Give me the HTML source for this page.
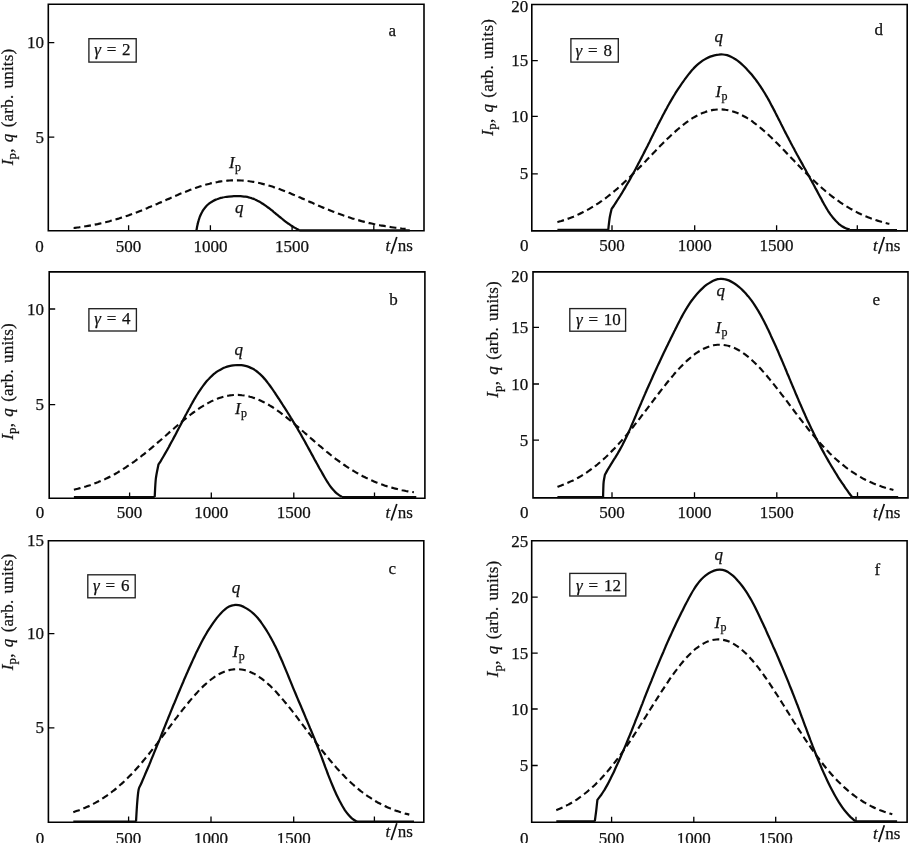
<!DOCTYPE html>
<html><head><meta charset="utf-8"><title>Ip, q vs t</title>
<style>
html,body{margin:0;padding:0;background:#fff;}
svg{display:block;will-change:transform;}
text{font-family:"Liberation Serif",serif;font-size:17px;fill:#111;stroke:#111;stroke-width:0.25;}
.i{font-style:italic;}
.fr{fill:none;stroke:#000;stroke-width:1.6;}
.tk{stroke:#000;stroke-width:1.3;fill:none;}
.q{fill:none;stroke:#0a0a0a;stroke-width:2.25;stroke-linejoin:round;stroke-linecap:butt;}
.ip{fill:none;stroke:#0a0a0a;stroke-width:2.15;stroke-dasharray:6.8 3.9;}
.bx{fill:none;stroke:#222;stroke-width:1.35;}
</style></head>
<body>
<svg width="909" height="843" viewBox="0 0 909 843">
<rect x="0" y="0" width="909" height="843" fill="#fff"/>

<g id="panel-a">
<path class="fr" d="M48.3 4.3H424.0V230.8H48.3Z"/>
<path class="tk" d="M48.3 42.6h6M48.3 137.2h6M128.6 230.8v-5.6M210.4 230.8v-5.6M292.1 230.8v-5.6M373.8 230.8v-5.6"/>
<text x="43.9" y="48.2" text-anchor="end">10</text>
<text x="43.9" y="142.8" text-anchor="end">5</text>
<text x="39.4" y="251.9" text-anchor="middle">0</text>
<text x="128.6" y="251.9" text-anchor="middle">500</text>
<text x="210.4" y="251.9" text-anchor="middle">1000</text>
<text x="292.1" y="251.9" text-anchor="middle">1500</text>
<text class="i" x="385.6" y="251.1">t</text>
<path d="M391.2 253.8L396.8 237.1" stroke="#111" stroke-width="1.7" fill="none"/>
<text x="397.8" y="251.1">ns</text>
<text transform="translate(12.5 106.9) rotate(-90)" text-anchor="middle" word-spacing="1.6" letter-spacing="0.22"><tspan class="i">I</tspan><tspan font-size="13" dy="3.5">p</tspan><tspan dy="-3.5">, </tspan><tspan class="i">q</tspan> (arb. units)</text>
<rect class="bx" x="88.9" y="38.7" width="47.3" height="23.4"/>
<text x="94.2" y="55.4"><tspan class="i">γ</tspan><tspan dx="5.8">=</tspan><tspan dx="5.7">2</tspan></text>
<text x="388.6" y="35.6">a</text>
<path class="ip" d="M73.6 228.0C74.3 228.0 76.3 227.7 77.6 227.5C78.9 227.3 80.3 227.2 81.6 227.0C82.9 226.8 84.3 226.5 85.6 226.3C86.9 226.1 88.3 225.9 89.6 225.6C90.9 225.4 92.3 225.1 93.6 224.9C94.9 224.6 96.3 224.3 97.6 224.1C98.9 223.8 100.3 223.5 101.6 223.2C102.9 222.9 104.3 222.5 105.6 222.2C106.9 221.9 108.3 221.5 109.6 221.2C110.9 220.8 112.3 220.4 113.6 220.1C114.9 219.7 116.3 219.3 117.6 218.9C118.9 218.5 120.3 218.1 121.6 217.6C122.9 217.2 124.3 216.8 125.6 216.3C126.9 215.9 128.3 215.4 129.6 214.9C130.9 214.5 132.3 214.0 133.6 213.5C134.9 213.0 136.3 212.5 137.6 212.0C138.9 211.4 140.3 210.9 141.6 210.4C142.9 209.9 144.3 209.3 145.6 208.8C146.9 208.2 148.3 207.7 149.6 207.1C150.9 206.5 152.3 206.0 153.6 205.4C154.9 204.8 156.3 204.2 157.6 203.7C158.9 203.1 160.3 202.5 161.6 201.9C162.9 201.3 164.3 200.7 165.6 200.2C166.9 199.6 168.3 199.0 169.6 198.4C170.9 197.8 172.3 197.2 173.6 196.7C174.9 196.1 176.3 195.5 177.6 195.0C178.9 194.4 180.3 193.8 181.6 193.3C182.9 192.7 184.3 192.2 185.6 191.7C186.9 191.1 188.3 190.6 189.6 190.1C190.9 189.6 192.3 189.1 193.6 188.6C194.9 188.1 196.3 187.7 197.6 187.2C198.9 186.8 200.3 186.3 201.6 185.9C202.9 185.5 204.3 185.1 205.6 184.7C206.9 184.4 208.3 184.0 209.6 183.7C210.9 183.3 212.3 183.0 213.6 182.7C214.9 182.5 216.3 182.2 217.6 182.0C218.9 181.7 220.3 181.5 221.6 181.3C222.9 181.1 224.3 181.0 225.6 180.8C226.9 180.7 228.3 180.6 229.6 180.5C230.9 180.4 232.3 180.4 233.6 180.3C234.9 180.3 236.3 180.3 237.6 180.3C238.9 180.3 240.3 180.4 241.6 180.5C242.9 180.5 244.3 180.7 245.6 180.8C246.9 180.9 248.3 181.1 249.6 181.3C250.9 181.4 252.3 181.7 253.6 181.9C254.9 182.1 256.3 182.4 257.6 182.7C258.9 182.9 260.3 183.3 261.6 183.6C262.9 183.9 264.3 184.3 265.6 184.6C266.9 185.0 268.3 185.4 269.6 185.8C270.9 186.2 272.3 186.6 273.6 187.1C274.9 187.5 276.3 188.0 277.6 188.5C278.9 188.9 280.3 189.4 281.6 189.9C282.9 190.4 284.3 191.0 285.6 191.5C286.9 192.0 288.3 192.6 289.6 193.1C290.9 193.7 292.3 194.2 293.6 194.8C294.9 195.3 296.3 195.9 297.6 196.5C298.9 197.1 300.3 197.6 301.6 198.2C302.9 198.8 304.3 199.4 305.6 200.0C306.9 200.6 308.3 201.2 309.6 201.7C310.9 202.3 312.3 202.9 313.6 203.5C314.9 204.1 316.3 204.7 317.6 205.2C318.9 205.8 320.3 206.4 321.6 206.9C322.9 207.5 324.3 208.1 325.6 208.6C326.9 209.2 328.3 209.7 329.6 210.2C330.9 210.8 332.3 211.3 333.6 211.8C334.9 212.3 336.3 212.8 337.6 213.3C338.9 213.8 340.3 214.3 341.6 214.8C342.9 215.3 344.3 215.7 345.6 216.2C346.9 216.6 348.3 217.1 349.6 217.5C350.9 217.9 352.3 218.4 353.6 218.8C354.9 219.2 356.3 219.6 357.6 220.0C358.9 220.3 360.3 220.7 361.6 221.1C362.9 221.4 364.3 221.8 365.6 222.1C366.9 222.4 368.3 222.8 369.6 223.1C370.9 223.4 372.3 223.7 373.6 224.0C374.9 224.3 376.3 224.5 377.6 224.8C378.9 225.1 380.3 225.3 381.6 225.6C382.9 225.8 384.3 226.0 385.6 226.3C386.9 226.5 388.3 226.7 389.6 226.9C390.9 227.1 392.3 227.3 393.6 227.5C394.9 227.7 396.3 227.8 397.6 228.0C398.9 228.2 400.3 228.3 401.6 228.5C402.9 228.6 404.9 228.8 405.6 228.9"/>
<path class="q" d="M196.4 230.5C196.5 230.0 196.8 228.4 197.0 227.3C197.2 226.3 197.4 225.2 197.7 224.1C197.9 223.0 198.2 221.9 198.5 220.9C198.8 219.8 199.2 218.7 199.5 217.7C199.9 216.7 200.3 215.6 200.7 214.7C201.2 213.7 201.7 212.7 202.2 211.8C202.7 210.8 203.3 210.0 203.9 209.1C204.5 208.3 205.1 207.5 205.8 206.7C206.5 205.9 207.2 205.2 208.0 204.5C208.8 203.8 209.6 203.2 210.4 202.6C211.3 202.0 212.2 201.5 213.1 201.0C214.0 200.5 214.9 200.0 215.9 199.6C216.9 199.2 217.9 198.9 219.0 198.5C220.0 198.2 221.0 197.9 222.1 197.7C223.2 197.4 224.3 197.2 225.4 197.0C226.5 196.8 227.6 196.7 228.7 196.6C229.9 196.5 231.0 196.4 232.1 196.3C233.3 196.2 234.4 196.2 235.5 196.1C236.7 196.1 237.8 196.1 238.9 196.1C240.0 196.2 241.1 196.2 242.2 196.3C243.3 196.4 244.4 196.5 245.4 196.7C246.5 196.9 247.6 197.1 248.6 197.3C249.6 197.6 250.6 197.9 251.6 198.2C252.6 198.6 253.6 198.9 254.5 199.3C255.5 199.7 256.4 200.2 257.4 200.7C258.3 201.1 259.2 201.6 260.1 202.1C261.0 202.7 261.9 203.2 262.8 203.8C263.7 204.4 264.6 205.0 265.5 205.6C266.3 206.2 267.2 206.8 268.1 207.5C268.9 208.1 269.8 208.8 270.6 209.4C271.5 210.1 272.3 210.8 273.2 211.5C274.0 212.2 274.9 212.9 275.7 213.6C276.5 214.3 277.4 215.0 278.2 215.7C279.1 216.4 279.9 217.1 280.7 217.7C281.6 218.4 282.4 219.1 283.3 219.8C284.1 220.5 285.0 221.1 285.9 221.8C286.7 222.5 287.6 223.1 288.5 223.7C289.4 224.4 290.2 225.0 291.1 225.6C292.0 226.1 292.9 226.7 293.8 227.3C294.8 227.8 295.7 228.3 296.6 228.8C297.6 229.3 299.0 230.0 299.5 230.2"/>
<path class="q" d="M299.5 230.3H409.8"/>
<text class="i" x="235.0" y="212.7">q</text>
<text x="228.9" y="168.1"><tspan class="i">I</tspan><tspan font-size="12" dx="0.4" dy="3">p</tspan></text>
</g>
<g id="panel-b">
<path class="fr" d="M49.2 271.9H424.9V498.2H49.2Z"/>
<path class="tk" d="M49.2 309.0h6M49.2 404.6h6M129.6 498.2v-5.6M211.3 498.2v-5.6M293.8 498.2v-5.6M374.5 498.2v-5.6"/>
<text x="43.9" y="314.6" text-anchor="end">10</text>
<text x="43.9" y="410.2" text-anchor="end">5</text>
<text x="40.0" y="518.4" text-anchor="middle">0</text>
<text x="129.6" y="518.4" text-anchor="middle">500</text>
<text x="211.3" y="518.4" text-anchor="middle">1000</text>
<text x="293.8" y="518.4" text-anchor="middle">1500</text>
<text class="i" x="385.6" y="517.9">t</text>
<path d="M391.2 520.6L396.8 503.9" stroke="#111" stroke-width="1.7" fill="none"/>
<text x="397.8" y="517.9">ns</text>
<text transform="translate(12.5 381.4) rotate(-90)" text-anchor="middle" word-spacing="1.6" letter-spacing="0.22"><tspan class="i">I</tspan><tspan font-size="13" dy="3.5">p</tspan><tspan dy="-3.5">, </tspan><tspan class="i">q</tspan> (arb. units)</text>
<rect class="bx" x="88.9" y="308.7" width="47.5" height="22.3"/>
<text x="94.2" y="324.3"><tspan class="i">γ</tspan><tspan dx="5.8">=</tspan><tspan dx="5.7">4</tspan></text>
<text x="389.2" y="304.8">b</text>
<path class="ip" d="M73.9 489.7C74.6 489.5 76.6 489.0 77.9 488.7C79.2 488.4 80.6 488.0 81.9 487.6C83.2 487.3 84.6 486.9 85.9 486.5C87.2 486.0 88.6 485.6 89.9 485.2C91.2 484.7 92.6 484.2 93.9 483.7C95.2 483.2 96.6 482.7 97.9 482.2C99.2 481.6 100.6 481.1 101.9 480.5C103.2 479.9 104.6 479.3 105.9 478.6C107.2 478.0 108.6 477.4 109.9 476.7C111.2 476.0 112.6 475.3 113.9 474.6C115.2 473.8 116.6 473.1 117.9 472.3C119.2 471.5 120.6 470.7 121.9 469.9C123.2 469.0 124.6 468.2 125.9 467.3C127.2 466.4 128.6 465.5 129.9 464.6C131.2 463.7 132.6 462.7 133.9 461.8C135.2 460.8 136.6 459.8 137.9 458.8C139.2 457.8 140.6 456.8 141.9 455.7C143.2 454.7 144.6 453.6 145.9 452.5C147.2 451.5 148.6 450.4 149.9 449.2C151.2 448.1 152.6 447.0 153.9 445.9C155.2 444.7 156.6 443.6 157.9 442.4C159.2 441.3 160.6 440.1 161.9 439.0C163.2 437.8 164.6 436.6 165.9 435.5C167.2 434.3 168.6 433.1 169.9 431.9C171.2 430.8 172.6 429.6 173.9 428.5C175.2 427.3 176.6 426.2 177.9 425.0C179.2 423.9 180.6 422.7 181.9 421.6C183.2 420.5 184.6 419.4 185.9 418.4C187.2 417.3 188.6 416.2 189.9 415.2C191.2 414.2 192.6 413.2 193.9 412.2C195.2 411.2 196.6 410.3 197.9 409.3C199.2 408.4 200.6 407.5 201.9 406.7C203.2 405.8 204.6 405.0 205.9 404.3C207.2 403.5 208.6 402.8 209.9 402.1C211.2 401.4 212.6 400.8 213.9 400.2C215.2 399.6 216.6 399.0 217.9 398.5C219.2 398.0 220.6 397.6 221.9 397.2C223.2 396.8 224.6 396.4 225.9 396.1C227.2 395.8 228.6 395.6 229.9 395.4C231.2 395.2 232.6 395.1 233.9 395.0C235.2 394.9 236.6 394.9 237.9 394.9C239.2 394.9 240.6 395.0 241.9 395.2C243.2 395.3 244.6 395.5 245.9 395.7C247.2 396.0 248.6 396.3 249.9 396.7C251.2 397.0 252.6 397.4 253.9 397.9C255.2 398.3 256.6 398.8 257.9 399.4C259.2 399.9 260.6 400.5 261.9 401.2C263.2 401.8 264.6 402.5 265.9 403.3C267.2 404.0 268.6 404.8 269.9 405.6C271.2 406.4 272.6 407.2 273.9 408.1C275.2 409.0 276.6 409.9 277.9 410.9C279.2 411.8 280.6 412.8 281.9 413.8C283.2 414.8 284.6 415.9 285.9 416.9C287.2 418.0 288.6 419.1 289.9 420.1C291.2 421.2 292.6 422.4 293.9 423.5C295.2 424.6 296.6 425.8 297.9 426.9C299.2 428.0 300.6 429.2 301.9 430.4C303.2 431.5 304.6 432.7 305.9 433.9C307.2 435.0 308.6 436.2 309.9 437.4C311.2 438.6 312.6 439.7 313.9 440.9C315.2 442.0 316.6 443.2 317.9 444.3C319.2 445.5 320.6 446.6 321.9 447.7C323.2 448.9 324.6 450.0 325.9 451.1C327.2 452.2 328.6 453.2 329.9 454.3C331.2 455.4 332.6 456.4 333.9 457.4C335.2 458.5 336.6 459.5 337.9 460.5C339.2 461.4 340.6 462.4 341.9 463.4C343.2 464.3 344.6 465.2 345.9 466.1C347.2 467.0 348.6 467.9 349.9 468.7C351.2 469.6 352.6 470.4 353.9 471.2C355.2 472.0 356.6 472.8 357.9 473.5C359.2 474.3 360.6 475.0 361.9 475.7C363.2 476.4 364.6 477.1 365.9 477.8C367.2 478.4 368.6 479.1 369.9 479.7C371.2 480.3 372.6 480.9 373.9 481.4C375.2 482.0 376.6 482.5 377.9 483.0C379.2 483.6 380.6 484.1 381.9 484.5C383.2 485.0 384.6 485.4 385.9 485.9C387.2 486.3 388.6 486.7 389.9 487.1C391.2 487.5 392.6 487.9 393.9 488.2C395.2 488.6 396.6 488.9 397.9 489.2C399.2 489.6 400.6 489.9 401.9 490.2C403.2 490.4 404.6 490.7 405.9 491.0C407.2 491.2 408.6 491.5 409.9 491.7C411.2 491.9 413.2 492.2 413.9 492.3"/>
<path class="q" d="M154.7 497.0C154.9 494.0 155.2 484.4 155.8 479.0C156.4 473.6 158.0 467.1 158.4 464.7L158.4 464.7C158.8 464.1 159.9 462.3 160.7 461.1C161.4 459.9 162.1 458.7 162.8 457.5C163.5 456.3 164.2 455.1 164.9 453.9C165.6 452.7 166.3 451.5 167.0 450.3C167.7 449.1 168.3 447.9 169.0 446.7C169.6 445.5 170.3 444.3 170.9 443.1C171.6 441.9 172.2 440.7 172.9 439.5C173.5 438.3 174.1 437.1 174.8 435.9C175.4 434.7 176.0 433.6 176.6 432.4C177.3 431.2 177.9 430.0 178.5 428.8C179.1 427.6 179.8 426.4 180.4 425.2C181.0 424.0 181.6 422.8 182.3 421.6C182.9 420.4 183.5 419.1 184.2 417.9C184.8 416.7 185.4 415.5 186.1 414.3C186.7 413.1 187.4 411.9 188.1 410.6C188.7 409.4 189.4 408.2 190.1 407.0C190.7 405.7 191.4 404.5 192.1 403.3C192.8 402.0 193.5 400.8 194.2 399.5C194.9 398.3 195.7 397.1 196.4 395.8C197.2 394.6 197.9 393.4 198.7 392.2C199.5 391.0 200.3 389.8 201.1 388.6C201.9 387.4 202.7 386.3 203.6 385.1C204.4 384.0 205.3 382.9 206.2 381.8C207.1 380.8 208.0 379.7 209.0 378.7C209.9 377.7 210.9 376.7 211.9 375.8C212.9 374.9 213.9 374.0 215.0 373.2C216.0 372.4 217.1 371.6 218.2 370.9C219.3 370.2 220.5 369.5 221.7 368.9C222.9 368.3 224.1 367.8 225.4 367.3C226.6 366.8 227.9 366.4 229.2 366.1C230.5 365.8 231.9 365.5 233.2 365.3C234.6 365.2 236.0 365.1 237.3 365.0C238.7 365.0 240.1 365.1 241.4 365.2C242.8 365.3 244.1 365.6 245.4 365.9C246.7 366.2 248.0 366.6 249.3 367.1C250.5 367.6 251.7 368.2 252.9 368.8C254.1 369.5 255.2 370.2 256.3 371.0C257.4 371.8 258.5 372.7 259.5 373.7C260.6 374.6 261.6 375.6 262.6 376.6C263.5 377.6 264.5 378.7 265.4 379.8C266.3 380.9 267.2 382.0 268.0 383.1C268.9 384.2 269.7 385.4 270.5 386.5C271.4 387.7 272.2 388.8 273.0 390.0C273.7 391.2 274.5 392.3 275.3 393.5C276.1 394.6 276.8 395.8 277.6 397.0C278.4 398.1 279.1 399.3 279.9 400.4C280.6 401.6 281.4 402.7 282.1 403.9C282.9 405.0 283.6 406.2 284.4 407.4C285.1 408.5 285.9 409.7 286.6 410.8C287.3 412.0 288.0 413.1 288.8 414.3C289.5 415.5 290.2 416.6 290.9 417.8C291.6 418.9 292.3 420.1 293.1 421.3C293.8 422.4 294.5 423.6 295.2 424.8C295.9 425.9 296.6 427.1 297.3 428.3C297.9 429.5 298.6 430.7 299.3 431.8C300.0 433.0 300.7 434.2 301.4 435.4C302.0 436.6 302.7 437.8 303.4 439.0C304.1 440.2 304.7 441.4 305.4 442.6C306.1 443.8 306.7 445.1 307.4 446.3C308.1 447.5 308.7 448.7 309.4 449.9C310.1 451.1 310.7 452.4 311.4 453.6C312.1 454.8 312.7 456.0 313.4 457.2C314.1 458.5 314.7 459.7 315.4 460.9C316.1 462.1 316.7 463.3 317.4 464.5C318.1 465.8 318.8 467.0 319.4 468.2C320.1 469.4 320.8 470.6 321.5 471.8C322.2 473.0 322.8 474.2 323.5 475.4C324.2 476.6 324.9 477.8 325.6 479.0C326.3 480.2 327.0 481.4 327.8 482.5C328.5 483.7 329.2 484.8 330.0 485.9C330.8 487.0 331.6 488.1 332.5 489.1C333.4 490.1 334.3 491.1 335.3 492.1C336.2 493.0 337.3 493.9 338.4 494.7C339.5 495.5 341.3 496.5 341.9 496.9"/>
<path class="q" d="M73.9 497.0H154.7M341.9 497.0H416.3"/>
<text class="i" x="234.5" y="354.5">q</text>
<text x="235.0" y="414.4"><tspan class="i">I</tspan><tspan font-size="12" dx="0.4" dy="3">p</tspan></text>
</g>
<g id="panel-c">
<path class="fr" d="M48.4 540.8H423.8V822.2H48.4Z"/>
<path class="tk" d="M48.4 633.7h6M48.4 727.8h6M128.6 822.2v-5.6M211.0 822.2v-5.6M293.7 822.2v-5.6M374.4 822.2v-5.6"/>
<text x="43.9" y="639.3" text-anchor="end">10</text>
<text x="43.9" y="733.4" text-anchor="end">5</text>
<text x="43.9" y="546.1" text-anchor="end">15</text>
<text x="40.0" y="843.8" text-anchor="middle">0</text>
<text x="128.6" y="843.8" text-anchor="middle">500</text>
<text x="211.0" y="843.8" text-anchor="middle">1000</text>
<text x="293.7" y="843.8" text-anchor="middle">1500</text>
<text class="i" x="385.6" y="837.3">t</text>
<path d="M391.2 840.0L396.8 823.3" stroke="#111" stroke-width="1.7" fill="none"/>
<text x="397.8" y="837.3">ns</text>
<text transform="translate(12.5 611.9) rotate(-90)" text-anchor="middle" word-spacing="1.6" letter-spacing="0.22"><tspan class="i">I</tspan><tspan font-size="13" dy="3.5">p</tspan><tspan dy="-3.5">, </tspan><tspan class="i">q</tspan> (arb. units)</text>
<rect class="bx" x="87.8" y="574.8" width="47.4" height="23.0"/>
<text x="93.1" y="591.4"><tspan class="i">γ</tspan><tspan dx="5.8">=</tspan><tspan dx="5.7">6</tspan></text>
<text x="388.6" y="574.3">c</text>
<path class="ip" d="M73.3 812.2C74.0 811.9 76.0 811.3 77.3 810.8C78.6 810.4 80.0 809.9 81.3 809.4C82.6 808.8 84.0 808.3 85.3 807.7C86.6 807.1 88.0 806.5 89.3 805.9C90.6 805.3 92.0 804.6 93.3 803.9C94.6 803.2 96.0 802.5 97.3 801.7C98.6 801.0 100.0 800.2 101.3 799.3C102.6 798.5 104.0 797.6 105.3 796.7C106.6 795.8 108.0 794.9 109.3 793.9C110.6 792.9 112.0 791.9 113.3 790.8C114.6 789.8 116.0 788.7 117.3 787.5C118.6 786.4 120.0 785.2 121.3 784.0C122.6 782.8 124.0 781.6 125.3 780.3C126.6 779.0 128.0 777.7 129.3 776.3C130.6 775.0 132.0 773.6 133.3 772.2C134.6 770.7 136.0 769.3 137.3 767.8C138.6 766.3 140.0 764.8 141.3 763.2C142.6 761.6 144.0 760.0 145.3 758.4C146.6 756.8 148.0 755.2 149.3 753.5C150.6 751.8 152.0 750.1 153.3 748.4C154.6 746.7 156.0 745.0 157.3 743.3C158.6 741.5 160.0 739.8 161.3 738.0C162.6 736.2 164.0 734.4 165.3 732.7C166.6 730.9 168.0 729.1 169.3 727.3C170.6 725.5 172.0 723.7 173.3 722.0C174.6 720.2 176.0 718.4 177.3 716.7C178.6 714.9 180.0 713.2 181.3 711.5C182.6 709.8 184.0 708.1 185.3 706.4C186.6 704.7 188.0 703.1 189.3 701.5C190.6 699.9 192.0 698.3 193.3 696.8C194.6 695.3 196.0 693.8 197.3 692.4C198.6 690.9 200.0 689.5 201.3 688.2C202.6 686.9 204.0 685.6 205.3 684.4C206.6 683.2 208.0 682.0 209.3 680.9C210.6 679.8 212.0 678.8 213.3 677.9C214.6 676.9 216.0 676.0 217.3 675.2C218.6 674.4 220.0 673.7 221.3 673.0C222.6 672.4 224.0 671.8 225.3 671.3C226.6 670.9 228.0 670.4 229.3 670.1C230.6 669.8 232.0 669.6 233.3 669.4C234.6 669.3 236.0 669.2 237.3 669.2C238.6 669.2 240.0 669.3 241.3 669.5C242.6 669.7 244.0 670.0 245.3 670.3C246.6 670.7 248.0 671.1 249.3 671.6C250.6 672.2 252.0 672.8 253.3 673.4C254.6 674.1 256.0 674.9 257.3 675.7C258.6 676.6 260.0 677.5 261.3 678.4C262.6 679.4 264.0 680.5 265.3 681.6C266.6 682.7 268.0 683.9 269.3 685.1C270.6 686.4 272.0 687.7 273.3 689.0C274.6 690.4 276.0 691.8 277.3 693.2C278.6 694.7 280.0 696.2 281.3 697.7C282.6 699.3 284.0 700.8 285.3 702.5C286.6 704.1 288.0 705.7 289.3 707.4C290.6 709.1 292.0 710.8 293.3 712.5C294.6 714.2 296.0 716.0 297.3 717.7C298.6 719.5 300.0 721.3 301.3 723.0C302.6 724.8 304.0 726.6 305.3 728.4C306.6 730.2 308.0 731.9 309.3 733.7C310.6 735.5 312.0 737.3 313.3 739.0C314.6 740.8 316.0 742.6 317.3 744.3C318.6 746.0 320.0 747.8 321.3 749.5C322.6 751.2 324.0 752.8 325.3 754.5C326.6 756.2 328.0 757.8 329.3 759.4C330.6 761.0 332.0 762.6 333.3 764.1C334.6 765.7 336.0 767.2 337.3 768.7C338.6 770.2 340.0 771.6 341.3 773.0C342.6 774.4 344.0 775.8 345.3 777.2C346.6 778.5 348.0 779.8 349.3 781.1C350.6 782.3 352.0 783.6 353.3 784.8C354.6 786.0 356.0 787.1 357.3 788.2C358.6 789.3 360.0 790.4 361.3 791.5C362.6 792.5 364.0 793.5 365.3 794.5C366.6 795.4 368.0 796.4 369.3 797.2C370.6 798.1 372.0 799.0 373.3 799.8C374.6 800.6 376.0 801.4 377.3 802.2C378.6 802.9 380.0 803.6 381.3 804.3C382.6 805.0 384.0 805.7 385.3 806.3C386.6 806.9 388.0 807.5 389.3 808.1C390.6 808.6 392.0 809.2 393.3 809.7C394.6 810.2 396.0 810.7 397.3 811.1C398.6 811.6 400.0 812.0 401.3 812.4C402.6 812.8 404.0 813.2 405.3 813.6C406.6 813.9 408.6 814.4 409.3 814.6"/>
<path class="q" d="M136.0 821.6C136.2 818.7 136.7 809.3 137.1 804.0C137.5 798.7 138.0 792.8 138.6 789.7C139.2 786.6 140.1 786.0 140.4 785.3L140.4 785.3C140.8 784.5 141.9 781.9 142.6 780.2C143.4 778.5 144.1 776.8 144.8 775.1C145.5 773.4 146.3 771.7 147.0 770.0C147.7 768.3 148.4 766.6 149.2 764.9C149.9 763.2 150.6 761.4 151.3 759.7C152.0 758.0 152.7 756.3 153.4 754.6C154.1 752.8 154.8 751.1 155.5 749.4C156.2 747.7 157.0 746.0 157.7 744.2C158.4 742.5 159.1 740.8 159.8 739.1C160.5 737.3 161.2 735.6 161.8 733.9C162.5 732.1 163.2 730.4 163.9 728.7C164.6 727.0 165.3 725.2 166.0 723.5C166.7 721.8 167.4 720.0 168.1 718.3C168.8 716.6 169.5 714.9 170.2 713.1C170.9 711.4 171.6 709.7 172.3 708.0C173.0 706.2 173.7 704.5 174.5 702.8C175.2 701.1 175.9 699.4 176.6 697.6C177.3 695.9 178.0 694.2 178.7 692.5C179.4 690.8 180.2 689.1 180.9 687.4C181.6 685.6 182.3 683.9 183.1 682.2C183.8 680.5 184.5 678.8 185.3 677.1C186.0 675.4 186.7 673.7 187.5 672.0C188.2 670.3 189.0 668.7 189.7 667.0C190.5 665.3 191.2 663.6 192.0 661.9C192.8 660.2 193.5 658.6 194.3 656.9C195.1 655.2 195.9 653.6 196.6 651.9C197.4 650.2 198.3 648.6 199.1 646.9C199.9 645.3 200.8 643.6 201.6 642.0C202.5 640.4 203.4 638.7 204.3 637.1C205.2 635.5 206.2 633.9 207.1 632.2C208.1 630.6 209.1 629.0 210.2 627.4C211.2 625.8 212.3 624.2 213.4 622.6C214.5 621.1 215.7 619.5 216.9 617.9C218.1 616.4 219.4 614.8 220.7 613.4C222.0 612.0 223.3 610.7 224.7 609.6C226.1 608.4 227.6 607.4 229.1 606.6C230.6 605.9 232.1 605.3 233.7 605.1C235.4 604.8 237.0 604.9 238.7 605.2C240.4 605.5 242.1 606.2 243.8 606.9C245.5 607.7 247.2 608.7 248.8 609.9C250.4 611.0 252.0 612.3 253.5 613.6C255.0 614.9 256.3 616.4 257.6 617.8C258.8 619.3 259.9 620.8 261.1 622.3C262.2 623.8 263.2 625.3 264.2 626.8C265.3 628.4 266.3 629.9 267.2 631.5C268.2 633.1 269.1 634.7 270.0 636.3C271.0 637.9 271.8 639.5 272.7 641.2C273.6 642.8 274.4 644.5 275.2 646.1C276.0 647.8 276.8 649.4 277.6 651.1C278.4 652.8 279.2 654.5 279.9 656.2C280.7 657.9 281.4 659.6 282.2 661.3C282.9 663.0 283.6 664.7 284.3 666.4C285.0 668.1 285.7 669.8 286.5 671.6C287.2 673.3 287.9 675.0 288.6 676.7C289.3 678.4 290.0 680.2 290.7 681.9C291.4 683.6 292.1 685.3 292.8 687.1C293.5 688.8 294.2 690.5 295.0 692.2C295.7 693.9 296.4 695.6 297.1 697.4C297.8 699.1 298.6 700.8 299.3 702.5C300.0 704.2 300.8 705.9 301.5 707.6C302.2 709.3 302.9 711.1 303.7 712.8C304.4 714.5 305.1 716.2 305.8 717.9C306.6 719.6 307.3 721.3 308.0 723.1C308.7 724.8 309.4 726.5 310.1 728.2C310.9 729.9 311.6 731.6 312.3 733.4C313.0 735.1 313.7 736.8 314.4 738.5C315.1 740.2 315.8 742.0 316.4 743.7C317.1 745.4 317.8 747.1 318.5 748.9C319.1 750.6 319.8 752.3 320.5 754.1C321.1 755.8 321.8 757.6 322.4 759.3C323.1 761.0 323.7 762.8 324.3 764.5C325.0 766.3 325.6 768.0 326.3 769.7C326.9 771.5 327.6 773.2 328.2 774.9C328.9 776.7 329.6 778.4 330.3 780.1C331.0 781.9 331.7 783.6 332.4 785.3C333.1 787.0 333.8 788.7 334.6 790.4C335.4 792.1 336.1 793.8 336.9 795.5C337.7 797.2 338.6 798.8 339.4 800.5C340.3 802.2 341.2 803.8 342.1 805.5C343.0 807.1 344.0 808.7 345.0 810.3C346.1 811.8 347.2 813.3 348.4 814.7C349.6 816.1 350.8 817.4 352.2 818.6C353.6 819.7 356.0 821.1 356.8 821.6"/>
<path class="q" d="M73.3 821.6H136.0M356.8 821.6H414.0"/>
<text class="i" x="231.8" y="592.7">q</text>
<text x="232.6" y="657.1"><tspan class="i">I</tspan><tspan font-size="12" dx="0.4" dy="3">p</tspan></text>
</g>
<g id="panel-d">
<path class="fr" d="M531.8 4.5H907.2V230.9H531.8Z"/>
<path class="tk" d="M531.8 60.7h6M531.8 116.4h6M531.8 173.8h6M612.0 230.9v-5.6M694.7 230.9v-5.6M776.6 230.9v-5.6M857.3 230.9v-5.6"/>
<text x="528.3" y="66.3" text-anchor="end">15</text>
<text x="528.3" y="122.0" text-anchor="end">10</text>
<text x="528.3" y="179.4" text-anchor="end">5</text>
<text x="528.3" y="11.8" text-anchor="end">20</text>
<text x="524.3" y="251.3" text-anchor="middle">0</text>
<text x="612.0" y="251.3" text-anchor="middle">500</text>
<text x="694.7" y="251.3" text-anchor="middle">1000</text>
<text x="776.6" y="251.3" text-anchor="middle">1500</text>
<text class="i" x="873.1" y="251.1">t</text>
<path d="M878.7 253.8L884.3 237.1" stroke="#111" stroke-width="1.7" fill="none"/>
<text x="885.3" y="251.1">ns</text>
<text transform="translate(492.9 77.3) rotate(-90)" text-anchor="middle" word-spacing="1.6" letter-spacing="0.22"><tspan class="i">I</tspan><tspan font-size="13" dy="3.5">p</tspan><tspan dy="-3.5">, </tspan><tspan class="i">q</tspan> (arb. units)</text>
<rect class="bx" x="570.9" y="38.7" width="47.4" height="23.4"/>
<text x="575.6" y="55.7"><tspan class="i">γ</tspan><tspan dx="5.8">=</tspan><tspan dx="5.7">8</tspan></text>
<text x="874.6" y="35.2">d</text>
<path class="ip" d="M557.4 222.1C558.1 221.9 560.1 221.4 561.4 221.0C562.7 220.5 564.1 220.1 565.4 219.7C566.7 219.2 568.1 218.7 569.4 218.2C570.7 217.7 572.1 217.2 573.4 216.7C574.7 216.1 576.1 215.5 577.4 214.9C578.7 214.3 580.1 213.7 581.4 213.1C582.7 212.4 584.1 211.7 585.4 211.0C586.7 210.3 588.1 209.6 589.4 208.8C590.7 208.0 592.1 207.3 593.4 206.4C594.7 205.6 596.1 204.8 597.4 203.9C598.7 203.0 600.1 202.1 601.4 201.2C602.7 200.2 604.1 199.3 605.4 198.3C606.7 197.3 608.1 196.2 609.4 195.2C610.7 194.1 612.1 193.1 613.4 192.0C614.7 190.9 616.1 189.7 617.4 188.6C618.7 187.4 620.1 186.2 621.4 185.0C622.7 183.8 624.1 182.6 625.4 181.3C626.7 180.1 628.1 178.8 629.4 177.5C630.7 176.2 632.1 174.9 633.4 173.6C634.7 172.3 636.1 170.9 637.4 169.6C638.7 168.2 640.1 166.9 641.4 165.5C642.7 164.1 644.1 162.7 645.4 161.4C646.7 160.0 648.1 158.6 649.4 157.2C650.7 155.8 652.1 154.4 653.4 153.0C654.7 151.6 656.1 150.3 657.4 148.9C658.7 147.5 660.1 146.2 661.4 144.8C662.7 143.5 664.1 142.1 665.4 140.8C666.7 139.5 668.1 138.2 669.4 136.9C670.7 135.7 672.1 134.4 673.4 133.2C674.7 132.0 676.1 130.8 677.4 129.6C678.7 128.5 680.1 127.3 681.4 126.3C682.7 125.2 684.1 124.1 685.4 123.2C686.7 122.2 688.1 121.2 689.4 120.3C690.7 119.4 692.1 118.5 693.4 117.7C694.7 116.9 696.1 116.2 697.4 115.5C698.7 114.8 700.1 114.1 701.4 113.5C702.7 113.0 704.1 112.4 705.4 112.0C706.7 111.5 708.1 111.1 709.4 110.8C710.7 110.4 712.1 110.1 713.4 109.9C714.7 109.7 716.1 109.6 717.4 109.5C718.7 109.4 720.1 109.4 721.4 109.4C722.7 109.5 724.1 109.6 725.4 109.8C726.7 109.9 728.1 110.2 729.4 110.5C730.7 110.8 732.1 111.1 733.4 111.6C734.7 112.0 736.1 112.5 737.4 113.0C738.7 113.6 740.1 114.2 741.4 114.9C742.7 115.5 744.1 116.2 745.4 117.0C746.7 117.8 748.1 118.6 749.4 119.5C750.7 120.4 752.1 121.3 753.4 122.3C754.7 123.2 756.1 124.3 757.4 125.3C758.7 126.4 760.1 127.5 761.4 128.6C762.7 129.7 764.1 130.9 765.4 132.1C766.7 133.3 768.1 134.5 769.4 135.8C770.7 137.0 772.1 138.3 773.4 139.6C774.7 140.9 776.1 142.3 777.4 143.6C778.7 144.9 780.1 146.3 781.4 147.7C782.7 149.0 784.1 150.4 785.4 151.8C786.7 153.2 788.1 154.6 789.4 155.9C790.7 157.3 792.1 158.7 793.4 160.1C794.7 161.5 796.1 162.9 797.4 164.3C798.7 165.6 800.1 167.0 801.4 168.4C802.7 169.7 804.1 171.1 805.4 172.4C806.7 173.7 808.1 175.1 809.4 176.4C810.7 177.7 812.1 178.9 813.4 180.2C814.7 181.5 816.1 182.7 817.4 183.9C818.7 185.2 820.1 186.3 821.4 187.5C822.7 188.7 824.1 189.8 825.4 191.0C826.7 192.1 828.1 193.2 829.4 194.2C830.7 195.3 832.1 196.3 833.4 197.4C834.7 198.4 836.1 199.4 837.4 200.3C838.7 201.3 840.1 202.2 841.4 203.1C842.7 204.0 844.1 204.8 845.4 205.7C846.7 206.5 848.1 207.3 849.4 208.1C850.7 208.9 852.1 209.6 853.4 210.4C854.7 211.1 856.1 211.8 857.4 212.5C858.7 213.1 860.1 213.8 861.4 214.4C862.7 215.0 864.1 215.6 865.4 216.2C866.7 216.7 868.1 217.3 869.4 217.8C870.7 218.3 872.1 218.8 873.4 219.2C874.7 219.7 876.1 220.2 877.4 220.6C878.7 221.0 880.1 221.4 881.4 221.8C882.7 222.2 884.1 222.5 885.4 222.9C886.7 223.2 888.7 223.7 889.4 223.8"/>
<path class="q" d="M608.3 229.8C608.4 228.8 608.6 226.1 608.9 223.9C609.2 221.7 609.4 219.0 609.9 216.5C610.4 214.0 611.3 210.2 611.6 209.0L611.6 209.0C612.0 208.4 613.2 206.6 614.0 205.5C614.8 204.3 615.6 203.1 616.3 201.9C617.1 200.7 617.9 199.5 618.6 198.3C619.4 197.1 620.2 195.9 620.9 194.7C621.7 193.5 622.4 192.3 623.1 191.0C623.9 189.8 624.6 188.6 625.3 187.4C626.0 186.2 626.7 184.9 627.4 183.7C628.2 182.5 628.9 181.2 629.6 180.0C630.3 178.7 631.0 177.5 631.6 176.3C632.3 175.0 633.0 173.8 633.7 172.5C634.4 171.3 635.0 170.0 635.7 168.8C636.4 167.5 637.1 166.2 637.7 165.0C638.4 163.7 639.0 162.5 639.7 161.2C640.4 159.9 641.0 158.7 641.7 157.4C642.3 156.1 643.0 154.9 643.6 153.6C644.3 152.3 644.9 151.1 645.5 149.8C646.2 148.5 646.8 147.2 647.5 146.0C648.1 144.7 648.7 143.4 649.4 142.2C650.0 140.9 650.7 139.6 651.3 138.3C651.9 137.1 652.6 135.8 653.2 134.5C653.8 133.2 654.5 132.0 655.1 130.7C655.7 129.4 656.4 128.1 657.0 126.9C657.6 125.6 658.3 124.3 658.9 123.1C659.6 121.8 660.2 120.5 660.9 119.3C661.5 118.0 662.2 116.8 662.8 115.5C663.5 114.2 664.2 113.0 664.8 111.7C665.5 110.5 666.2 109.2 666.9 108.0C667.5 106.7 668.2 105.5 668.9 104.3C669.6 103.0 670.3 101.8 671.0 100.6C671.8 99.3 672.5 98.1 673.2 96.9C673.9 95.7 674.7 94.5 675.4 93.2C676.2 92.0 676.9 90.8 677.7 89.6C678.5 88.4 679.3 87.3 680.1 86.1C680.9 84.9 681.7 83.7 682.5 82.5C683.3 81.4 684.2 80.2 685.0 79.0C685.9 77.9 686.7 76.7 687.6 75.6C688.5 74.5 689.4 73.3 690.3 72.2C691.2 71.1 692.1 70.0 693.1 69.0C694.1 67.9 695.1 66.9 696.1 65.9C697.1 65.0 698.2 64.0 699.3 63.1C700.4 62.2 701.5 61.4 702.6 60.6C703.8 59.8 705.0 59.1 706.3 58.4C707.5 57.8 708.9 57.1 710.2 56.6C711.6 56.1 713.0 55.7 714.4 55.3C715.8 55.0 717.3 54.7 718.7 54.6C720.2 54.4 721.6 54.4 723.0 54.5C724.4 54.6 725.8 54.9 727.1 55.2C728.4 55.6 729.7 56.1 731.0 56.7C732.2 57.3 733.4 57.9 734.6 58.7C735.8 59.4 736.9 60.3 738.1 61.1C739.2 62.0 740.3 62.9 741.4 63.9C742.4 64.8 743.5 65.8 744.5 66.8C745.5 67.8 746.5 68.8 747.5 69.9C748.4 70.9 749.4 71.9 750.3 73.0C751.2 74.1 752.2 75.2 753.0 76.3C753.9 77.4 754.8 78.5 755.7 79.6C756.5 80.8 757.3 81.9 758.2 83.1C759.0 84.2 759.8 85.4 760.6 86.6C761.3 87.8 762.1 89.0 762.9 90.2C763.6 91.4 764.4 92.6 765.1 93.8C765.8 95.1 766.6 96.3 767.3 97.5C768.0 98.8 768.7 100.0 769.4 101.3C770.1 102.6 770.7 103.8 771.4 105.1C772.1 106.3 772.8 107.6 773.4 108.9C774.1 110.2 774.8 111.5 775.4 112.7C776.1 114.0 776.7 115.3 777.4 116.6C778.0 117.9 778.6 119.1 779.3 120.4C779.9 121.7 780.6 123.0 781.2 124.3C781.9 125.6 782.5 126.8 783.2 128.1C783.8 129.4 784.4 130.7 785.1 131.9C785.8 133.2 786.4 134.5 787.1 135.7C787.7 137.0 788.4 138.2 789.0 139.5C789.7 140.7 790.4 142.0 791.0 143.2C791.7 144.5 792.4 145.7 793.0 147.0C793.7 148.2 794.4 149.5 795.0 150.7C795.7 152.0 796.4 153.2 797.0 154.5C797.7 155.7 798.4 156.9 799.1 158.2C799.7 159.4 800.4 160.6 801.1 161.9C801.8 163.1 802.5 164.4 803.1 165.6C803.8 166.8 804.5 168.1 805.2 169.3C805.9 170.6 806.5 171.8 807.2 173.1C807.9 174.3 808.6 175.5 809.3 176.8C810.0 178.0 810.6 179.3 811.3 180.5C812.0 181.8 812.7 183.0 813.4 184.3C814.1 185.5 814.7 186.8 815.4 188.1C816.1 189.3 816.8 190.6 817.5 191.9C818.1 193.1 818.8 194.4 819.5 195.7C820.2 197.0 820.9 198.2 821.6 199.5C822.2 200.8 822.9 202.1 823.6 203.3C824.3 204.6 825.1 205.9 825.8 207.1C826.5 208.3 827.3 209.6 828.0 210.8C828.8 212.0 829.6 213.1 830.4 214.3C831.2 215.4 832.1 216.6 833.0 217.7C833.9 218.8 834.8 219.8 835.7 220.8C836.7 221.8 837.7 222.8 838.7 223.8C839.8 224.7 840.9 225.5 842.0 226.3C843.2 227.1 844.4 227.8 845.7 228.3C847.0 228.9 849.1 229.5 849.8 229.7"/>
<path class="q" d="M557.4 229.9H608.3M849.8 230.1H897.0"/>
<text class="i" x="714.4" y="42.2">q</text>
<text x="715.5" y="96.6"><tspan class="i">I</tspan><tspan font-size="12" dx="0.4" dy="3">p</tspan></text>
</g>
<g id="panel-e">
<path class="fr" d="M533.0 271.9H908.0V497.9H533.0Z"/>
<path class="tk" d="M533.0 327.3h6M533.0 384.0h6M533.0 440.2h6M612.0 497.9v-5.6M694.5 497.9v-5.6M776.8 497.9v-5.6M857.5 497.9v-5.6"/>
<text x="528.3" y="332.9" text-anchor="end">15</text>
<text x="528.3" y="389.6" text-anchor="end">10</text>
<text x="528.3" y="445.8" text-anchor="end">5</text>
<text x="528.3" y="282.3" text-anchor="end">20</text>
<text x="524.3" y="518.4" text-anchor="middle">0</text>
<text x="612.0" y="518.4" text-anchor="middle">500</text>
<text x="694.5" y="518.4" text-anchor="middle">1000</text>
<text x="776.8" y="518.4" text-anchor="middle">1500</text>
<text class="i" x="873.1" y="517.9">t</text>
<path d="M878.7 520.6L884.3 503.9" stroke="#111" stroke-width="1.7" fill="none"/>
<text x="885.3" y="517.9">ns</text>
<text transform="translate(498.3 339.4) rotate(-90)" text-anchor="middle" word-spacing="1.6" letter-spacing="0.22"><tspan class="i">I</tspan><tspan font-size="13" dy="3.5">p</tspan><tspan dy="-3.5">, </tspan><tspan class="i">q</tspan> (arb. units)</text>
<rect class="bx" x="569.8" y="308.6" width="55.8" height="22.6"/>
<text x="575.9" y="324.5"><tspan class="i">γ</tspan><tspan dx="5.8">=</tspan><tspan dx="5.7">10</tspan></text>
<text x="872.5" y="304.5">e</text>
<path class="ip" d="M557.4 486.8C558.1 486.5 560.1 485.9 561.4 485.4C562.7 484.9 564.1 484.4 565.4 483.8C566.7 483.3 568.1 482.7 569.4 482.1C570.7 481.5 572.1 480.8 573.4 480.2C574.7 479.5 576.1 478.8 577.4 478.1C578.7 477.3 580.1 476.6 581.4 475.8C582.7 475.0 584.1 474.1 585.4 473.3C586.7 472.4 588.1 471.5 589.4 470.5C590.7 469.6 592.1 468.6 593.4 467.6C594.7 466.6 596.1 465.5 597.4 464.5C598.7 463.4 600.1 462.2 601.4 461.1C602.7 459.9 604.1 458.7 605.4 457.5C606.7 456.2 608.1 455.0 609.4 453.6C610.7 452.3 612.1 451.0 613.4 449.6C614.7 448.2 616.1 446.8 617.4 445.3C618.7 443.9 620.1 442.4 621.4 440.9C622.7 439.4 624.1 437.8 625.4 436.3C626.7 434.7 628.1 433.1 629.4 431.5C630.7 429.8 632.1 428.2 633.4 426.5C634.7 424.8 636.1 423.1 637.4 421.4C638.7 419.7 640.1 418.0 641.4 416.2C642.7 414.5 644.1 412.7 645.4 411.0C646.7 409.2 648.1 407.5 649.4 405.7C650.7 403.9 652.1 402.1 653.4 400.4C654.7 398.6 656.1 396.9 657.4 395.1C658.7 393.4 660.1 391.6 661.4 389.9C662.7 388.2 664.1 386.5 665.4 384.8C666.7 383.1 668.1 381.5 669.4 379.8C670.7 378.2 672.1 376.6 673.4 375.1C674.7 373.5 676.1 372.0 677.4 370.5C678.7 369.0 680.1 367.6 681.4 366.2C682.7 364.8 684.1 363.5 685.4 362.2C686.7 360.9 688.1 359.7 689.4 358.6C690.7 357.4 692.1 356.3 693.4 355.3C694.7 354.2 696.1 353.3 697.4 352.4C698.7 351.5 700.1 350.7 701.4 349.9C702.7 349.2 704.1 348.5 705.4 347.9C706.7 347.3 708.1 346.8 709.4 346.4C710.7 346.0 712.1 345.6 713.4 345.3C714.7 345.1 716.1 344.9 717.4 344.8C718.7 344.7 720.1 344.7 721.4 344.7C722.7 344.8 724.1 345.0 725.4 345.2C726.7 345.4 728.1 345.7 729.4 346.1C730.7 346.5 732.1 347.0 733.4 347.6C734.7 348.1 736.1 348.8 737.4 349.5C738.7 350.2 740.1 351.0 741.4 351.9C742.7 352.7 744.1 353.7 745.4 354.7C746.7 355.7 748.1 356.7 749.4 357.9C750.7 359.0 752.1 360.2 753.4 361.5C754.7 362.7 756.1 364.0 757.4 365.4C758.7 366.7 760.1 368.2 761.4 369.6C762.7 371.1 764.1 372.6 765.4 374.1C766.7 375.7 768.1 377.3 769.4 378.9C770.7 380.5 772.1 382.1 773.4 383.8C774.7 385.5 776.1 387.2 777.4 388.9C778.7 390.6 780.1 392.3 781.4 394.1C782.7 395.8 784.1 397.6 785.4 399.3C786.7 401.1 788.1 402.9 789.4 404.6C790.7 406.4 792.1 408.2 793.4 409.9C794.7 411.7 796.1 413.4 797.4 415.2C798.7 416.9 800.1 418.7 801.4 420.4C802.7 422.1 804.1 423.8 805.4 425.5C806.7 427.2 808.1 428.8 809.4 430.5C810.7 432.1 812.1 433.7 813.4 435.3C814.7 436.9 816.1 438.5 817.4 440.0C818.7 441.5 820.1 443.0 821.4 444.5C822.7 445.9 824.1 447.4 825.4 448.8C826.7 450.2 828.1 451.5 829.4 452.9C830.7 454.2 832.1 455.5 833.4 456.7C834.7 458.0 836.1 459.2 837.4 460.4C838.7 461.5 840.1 462.7 841.4 463.8C842.7 464.9 844.1 466.0 845.4 467.0C846.7 468.0 848.1 469.0 849.4 470.0C850.7 470.9 852.1 471.8 853.4 472.7C854.7 473.6 856.1 474.5 857.4 475.3C858.7 476.1 860.1 476.9 861.4 477.6C862.7 478.4 864.1 479.1 865.4 479.8C866.7 480.4 868.1 481.1 869.4 481.7C870.7 482.3 872.1 482.9 873.4 483.5C874.7 484.0 876.1 484.6 877.4 485.1C878.7 485.6 880.1 486.1 881.4 486.5C882.7 487.0 884.1 487.4 885.4 487.8C886.7 488.2 888.1 488.6 889.4 489.0C890.7 489.3 892.7 489.8 893.4 490.0"/>
<path class="q" d="M603.1 497.0C603.1 495.6 603.2 491.5 603.3 488.9C603.4 486.3 603.4 483.9 603.7 481.5C604.0 479.1 604.7 475.9 604.9 474.8L604.9 474.8C605.3 474.1 606.5 471.9 607.3 470.4C608.1 469.0 609.0 467.5 609.9 466.1C610.7 464.7 611.6 463.2 612.5 461.8C613.4 460.4 614.3 459.0 615.2 457.6C616.1 456.1 616.9 454.7 617.8 453.3C618.6 451.8 619.5 450.4 620.3 448.9C621.1 447.4 621.9 446.0 622.7 444.5C623.4 443.0 624.2 441.5 624.9 440.0C625.7 438.5 626.4 437.0 627.1 435.5C627.8 434.0 628.5 432.4 629.2 430.9C629.9 429.4 630.6 427.9 631.2 426.3C631.9 424.8 632.6 423.2 633.2 421.7C633.9 420.2 634.5 418.6 635.2 417.1C635.8 415.5 636.5 414.0 637.1 412.4C637.8 410.9 638.4 409.3 639.1 407.8C639.7 406.2 640.4 404.7 641.1 403.2C641.7 401.6 642.4 400.1 643.1 398.5C643.7 397.0 644.4 395.5 645.1 393.9C645.7 392.4 646.4 390.9 647.1 389.3C647.8 387.8 648.4 386.2 649.1 384.7C649.8 383.2 650.5 381.7 651.2 380.1C651.9 378.6 652.5 377.1 653.2 375.5C653.9 374.0 654.6 372.5 655.3 371.0C656.0 369.5 656.7 367.9 657.4 366.4C658.1 364.9 658.8 363.4 659.6 361.9C660.3 360.3 661.0 358.8 661.7 357.3C662.4 355.8 663.1 354.3 663.8 352.8C664.6 351.3 665.3 349.8 666.0 348.3C666.7 346.8 667.5 345.2 668.2 343.7C668.9 342.2 669.7 340.7 670.4 339.2C671.1 337.7 671.9 336.2 672.6 334.7C673.4 333.2 674.1 331.7 674.9 330.3C675.6 328.8 676.4 327.3 677.1 325.8C677.9 324.3 678.6 322.8 679.4 321.3C680.1 319.8 680.9 318.4 681.7 316.9C682.5 315.4 683.3 313.9 684.1 312.5C685.0 311.0 685.8 309.6 686.7 308.2C687.6 306.7 688.5 305.3 689.4 303.9C690.3 302.5 691.3 301.1 692.3 299.8C693.3 298.4 694.4 297.0 695.5 295.7C696.6 294.4 697.8 293.1 699.0 291.8C700.2 290.5 701.4 289.3 702.7 288.1C704.0 286.9 705.4 285.7 706.7 284.7C708.1 283.7 709.5 282.7 711.0 281.9C712.4 281.1 713.9 280.4 715.4 279.9C716.8 279.4 718.3 279.0 719.8 278.9C721.3 278.7 722.8 278.8 724.3 279.1C725.8 279.3 727.3 279.8 728.8 280.4C730.3 281.0 731.7 281.8 733.2 282.7C734.6 283.5 736.0 284.5 737.4 285.6C738.7 286.7 740.1 287.8 741.4 289.0C742.6 290.2 743.9 291.5 745.1 292.7C746.2 294.0 747.4 295.3 748.5 296.6C749.5 297.9 750.6 299.3 751.6 300.6C752.6 302.0 753.6 303.4 754.5 304.8C755.4 306.2 756.3 307.6 757.2 309.1C758.1 310.5 758.9 311.9 759.7 313.4C760.6 314.9 761.4 316.3 762.1 317.8C762.9 319.3 763.7 320.8 764.5 322.3C765.2 323.8 766.0 325.3 766.7 326.8C767.4 328.3 768.2 329.8 768.9 331.3C769.6 332.8 770.3 334.3 771.0 335.9C771.7 337.4 772.4 338.9 773.1 340.4C773.8 341.9 774.5 343.5 775.2 345.0C775.9 346.5 776.6 348.1 777.2 349.6C777.9 351.1 778.6 352.7 779.2 354.2C779.9 355.7 780.6 357.3 781.2 358.8C781.9 360.3 782.5 361.9 783.2 363.4C783.8 365.0 784.5 366.5 785.1 368.0C785.8 369.6 786.4 371.1 787.0 372.7C787.7 374.2 788.3 375.8 789.0 377.3C789.6 378.9 790.3 380.4 790.9 382.0C791.5 383.5 792.2 385.0 792.8 386.6C793.5 388.1 794.1 389.7 794.8 391.2C795.4 392.8 796.1 394.3 796.7 395.8C797.4 397.4 798.0 398.9 798.7 400.5C799.4 402.0 800.0 403.5 800.7 405.1C801.4 406.6 802.0 408.2 802.7 409.7C803.4 411.2 804.1 412.7 804.8 414.3C805.4 415.8 806.1 417.3 806.8 418.9C807.5 420.4 808.2 421.9 809.0 423.4C809.7 424.9 810.4 426.4 811.1 428.0C811.8 429.5 812.6 431.0 813.3 432.5C814.0 434.0 814.8 435.5 815.5 437.0C816.3 438.5 817.0 440.0 817.8 441.5C818.6 443.0 819.4 444.4 820.1 445.9C820.9 447.4 821.7 448.9 822.5 450.4C823.3 451.8 824.1 453.3 824.9 454.8C825.7 456.2 826.6 457.7 827.4 459.1C828.2 460.6 829.0 462.1 829.9 463.5C830.7 464.9 831.6 466.4 832.5 467.8C833.3 469.2 834.2 470.7 835.1 472.1C836.0 473.5 836.8 474.9 837.7 476.3C838.6 477.8 839.6 479.2 840.5 480.6C841.4 482.0 842.3 483.3 843.3 484.7C844.2 486.1 845.2 487.5 846.1 488.9C847.1 490.2 848.0 491.6 849.0 493.0C850.0 494.3 851.5 496.3 852.0 497.0"/>
<path class="q" d="M557.4 497.0H603.1M852.0 497.0H898.2"/>
<text class="i" x="716.5" y="296.2">q</text>
<text x="715.5" y="333.3"><tspan class="i">I</tspan><tspan font-size="12" dx="0.4" dy="3">p</tspan></text>
</g>
<g id="panel-f">
<path class="fr" d="M531.7 540.8H907.1V822.3H531.7Z"/>
<path class="tk" d="M531.7 597.1h6M531.7 653.2h6M531.7 709.0h6M531.7 765.5h6M611.6 822.3v-5.6M693.8 822.3v-5.6M775.7 822.3v-5.6M856.0 822.3v-5.6"/>
<text x="528.3" y="602.7" text-anchor="end">20</text>
<text x="528.3" y="658.8" text-anchor="end">15</text>
<text x="528.3" y="714.6" text-anchor="end">10</text>
<text x="528.3" y="771.1" text-anchor="end">5</text>
<text x="528.3" y="546.5" text-anchor="end">25</text>
<text x="524.3" y="843.8" text-anchor="middle">0</text>
<text x="611.6" y="843.8" text-anchor="middle">500</text>
<text x="693.8" y="843.8" text-anchor="middle">1000</text>
<text x="775.7" y="843.8" text-anchor="middle">1500</text>
<text class="i" x="873.1" y="839.2">t</text>
<path d="M878.7 841.9L884.3 825.2" stroke="#111" stroke-width="1.7" fill="none"/>
<text x="885.3" y="839.2">ns</text>
<text transform="translate(498.3 618.9) rotate(-90)" text-anchor="middle" word-spacing="1.6" letter-spacing="0.22"><tspan class="i">I</tspan><tspan font-size="13" dy="3.5">p</tspan><tspan dy="-3.5">, </tspan><tspan class="i">q</tspan> (arb. units)</text>
<rect class="bx" x="569.8" y="573.4" width="56.0" height="22.6"/>
<text x="576.1" y="591.3"><tspan class="i">γ</tspan><tspan dx="5.8">=</tspan><tspan dx="5.7">12</tspan></text>
<text x="874.4" y="574.8">f</text>
<path class="ip" d="M556.3 810.2C557.0 809.9 559.0 809.1 560.3 808.5C561.6 807.9 563.0 807.3 564.3 806.6C565.6 806.0 567.0 805.3 568.3 804.6C569.6 803.8 571.0 803.1 572.3 802.3C573.6 801.5 575.0 800.6 576.3 799.8C577.6 798.9 579.0 798.0 580.3 797.0C581.6 796.0 583.0 795.0 584.3 794.0C585.6 793.0 587.0 791.9 588.3 790.7C589.6 789.6 591.0 788.4 592.3 787.2C593.6 786.0 595.0 784.7 596.3 783.4C597.6 782.1 599.0 780.8 600.3 779.4C601.6 778.0 603.0 776.5 604.3 775.0C605.6 773.5 607.0 772.0 608.3 770.4C609.6 768.8 611.0 767.2 612.3 765.5C613.6 763.9 615.0 762.2 616.3 760.4C617.6 758.7 619.0 756.9 620.3 755.0C621.6 753.2 623.0 751.3 624.3 749.4C625.6 747.5 627.0 745.6 628.3 743.6C629.6 741.7 631.0 739.7 632.3 737.7C633.6 735.6 635.0 733.6 636.3 731.5C637.6 729.5 639.0 727.4 640.3 725.3C641.6 723.2 643.0 721.0 644.3 718.9C645.6 716.8 647.0 714.6 648.3 712.5C649.6 710.4 651.0 708.2 652.3 706.1C653.6 704.0 655.0 701.8 656.3 699.7C657.6 697.6 659.0 695.5 660.3 693.5C661.6 691.4 663.0 689.3 664.3 687.3C665.6 685.3 667.0 683.3 668.3 681.3C669.6 679.3 671.0 677.4 672.3 675.5C673.6 673.7 675.0 671.8 676.3 670.1C677.6 668.3 679.0 666.6 680.3 664.9C681.6 663.2 683.0 661.6 684.3 660.1C685.6 658.6 687.0 657.1 688.3 655.7C689.6 654.3 691.0 653.0 692.3 651.8C693.6 650.6 695.0 649.4 696.3 648.3C697.6 647.3 699.0 646.3 700.3 645.4C701.6 644.5 703.0 643.8 704.3 643.1C705.6 642.4 707.0 641.8 708.3 641.3C709.6 640.8 711.0 640.4 712.3 640.1C713.6 639.8 715.0 639.6 716.3 639.5C717.6 639.4 719.0 639.4 720.3 639.5C721.6 639.6 723.0 639.8 724.3 640.1C725.6 640.4 727.0 640.8 728.3 641.3C729.6 641.8 731.0 642.5 732.3 643.2C733.6 643.9 735.0 644.7 736.3 645.6C737.6 646.4 739.0 647.4 740.3 648.5C741.6 649.6 743.0 650.7 744.3 652.0C745.6 653.2 747.0 654.5 748.3 655.9C749.6 657.3 751.0 658.8 752.3 660.3C753.6 661.9 755.0 663.5 756.3 665.1C757.6 666.8 759.0 668.5 760.3 670.3C761.6 672.1 763.0 673.9 764.3 675.8C765.6 677.7 767.0 679.6 768.3 681.6C769.6 683.6 771.0 685.6 772.3 687.6C773.6 689.6 775.0 691.7 776.3 693.8C777.6 695.8 779.0 697.9 780.3 700.1C781.6 702.2 783.0 704.3 784.3 706.4C785.6 708.6 787.0 710.7 788.3 712.8C789.6 715.0 791.0 717.1 792.3 719.2C793.6 721.4 795.0 723.5 796.3 725.6C797.6 727.7 799.0 729.8 800.3 731.8C801.6 733.9 803.0 735.9 804.3 738.0C805.6 740.0 807.0 742.0 808.3 743.9C809.6 745.9 811.0 747.8 812.3 749.7C813.6 751.6 815.0 753.5 816.3 755.3C817.6 757.1 819.0 758.9 820.3 760.7C821.6 762.4 823.0 764.1 824.3 765.8C825.6 767.4 827.0 769.1 828.3 770.6C829.6 772.2 831.0 773.8 832.3 775.2C833.6 776.7 835.0 778.2 836.3 779.6C837.6 781.0 839.0 782.3 840.3 783.6C841.6 784.9 843.0 786.2 844.3 787.4C845.6 788.6 847.0 789.8 848.3 790.9C849.6 792.0 851.0 793.1 852.3 794.2C853.6 795.2 855.0 796.2 856.3 797.2C857.6 798.1 859.0 799.0 860.3 799.9C861.6 800.8 863.0 801.6 864.3 802.4C865.6 803.2 867.0 804.0 868.3 804.7C869.6 805.4 871.0 806.1 872.3 806.7C873.6 807.4 875.0 808.0 876.3 808.6C877.6 809.2 879.0 809.7 880.3 810.3C881.6 810.8 883.0 811.3 884.3 811.8C885.6 812.2 887.0 812.7 888.3 813.1C889.6 813.5 891.6 814.1 892.3 814.3"/>
<path class="q" d="M594.8 821.5C595.0 819.5 595.9 813.4 596.3 809.8C596.7 806.2 597.2 801.5 597.4 799.9L597.4 799.9C598.0 799.1 599.9 796.6 601.1 795.0C602.3 793.3 603.4 791.5 604.5 789.8C605.6 788.0 606.6 786.2 607.6 784.4C608.6 782.6 609.5 780.7 610.4 778.9C611.4 777.0 612.3 775.1 613.2 773.3C614.1 771.4 614.9 769.5 615.8 767.6C616.7 765.7 617.6 763.8 618.4 761.9C619.3 760.0 620.1 758.1 620.9 756.2C621.8 754.2 622.6 752.3 623.4 750.4C624.3 748.5 625.1 746.5 625.9 744.6C626.7 742.7 627.5 740.7 628.3 738.8C629.1 736.9 629.9 734.9 630.7 733.0C631.5 731.1 632.2 729.1 633.0 727.2C633.8 725.2 634.6 723.3 635.3 721.3C636.1 719.4 636.9 717.4 637.7 715.5C638.4 713.6 639.2 711.6 640.0 709.7C640.7 707.7 641.5 705.8 642.3 703.8C643.0 701.9 643.8 700.0 644.5 698.0C645.3 696.1 646.1 694.1 646.8 692.2C647.6 690.3 648.4 688.3 649.1 686.4C649.9 684.5 650.7 682.6 651.5 680.6C652.2 678.7 653.0 676.8 653.8 674.9C654.6 672.9 655.3 671.0 656.1 669.1C656.9 667.2 657.7 665.3 658.5 663.3C659.3 661.4 660.1 659.5 660.9 657.6C661.7 655.7 662.5 653.8 663.4 651.9C664.2 650.0 665.0 648.1 665.8 646.1C666.7 644.2 667.5 642.3 668.3 640.4C669.2 638.5 670.0 636.6 670.9 634.7C671.8 632.8 672.6 630.9 673.5 629.0C674.4 627.1 675.3 625.2 676.2 623.3C677.1 621.4 678.0 619.6 678.9 617.7C679.9 615.8 680.8 613.9 681.7 612.0C682.7 610.1 683.6 608.2 684.6 606.3C685.6 604.4 686.5 602.5 687.5 600.7C688.5 598.8 689.5 596.9 690.6 595.0C691.6 593.2 692.6 591.3 693.8 589.5C694.9 587.7 696.0 586.0 697.3 584.3C698.5 582.6 699.8 581.0 701.2 579.5C702.6 578.1 704.1 576.7 705.7 575.4C707.4 574.2 709.1 573.0 711.0 572.1C712.8 571.2 714.9 570.3 716.8 569.9C718.7 569.5 720.7 569.5 722.6 569.9C724.5 570.3 726.3 571.1 728.1 572.1C729.8 573.1 731.5 574.5 733.2 575.9C734.8 577.3 736.3 579.0 737.8 580.7C739.3 582.3 740.7 584.0 742.0 585.7C743.3 587.4 744.5 589.2 745.7 590.9C746.9 592.7 748.0 594.5 749.1 596.3C750.2 598.0 751.2 599.9 752.2 601.7C753.2 603.5 754.2 605.3 755.1 607.2C756.0 609.0 756.9 610.9 757.8 612.7C758.7 614.6 759.6 616.5 760.4 618.3C761.3 620.2 762.2 622.1 763.1 624.0C763.9 625.8 764.8 627.7 765.7 629.6C766.5 631.5 767.4 633.4 768.2 635.3C769.1 637.2 769.9 639.1 770.8 641.0C771.6 642.9 772.5 644.8 773.3 646.7C774.2 648.6 775.0 650.5 775.9 652.4C776.7 654.4 777.5 656.3 778.4 658.2C779.2 660.1 780.0 662.0 780.8 664.0C781.6 665.9 782.5 667.8 783.3 669.8C784.1 671.7 784.9 673.6 785.7 675.6C786.5 677.5 787.3 679.4 788.1 681.4C788.9 683.3 789.6 685.3 790.4 687.2C791.2 689.1 792.0 691.1 792.7 693.0C793.5 695.0 794.3 696.9 795.0 698.9C795.8 700.8 796.5 702.8 797.3 704.7C798.0 706.7 798.7 708.6 799.5 710.6C800.2 712.6 800.9 714.5 801.6 716.5C802.4 718.4 803.1 720.4 803.8 722.3C804.5 724.3 805.2 726.2 806.0 728.2C806.7 730.1 807.4 732.1 808.1 734.0C808.9 736.0 809.6 737.9 810.3 739.9C811.1 741.8 811.8 743.8 812.5 745.7C813.3 747.7 814.0 749.6 814.8 751.5C815.6 753.5 816.3 755.4 817.1 757.3C817.9 759.3 818.7 761.2 819.5 763.1C820.3 765.0 821.1 766.9 821.9 768.8C822.8 770.8 823.6 772.7 824.5 774.6C825.4 776.5 826.2 778.3 827.1 780.2C828.0 782.1 828.9 784.0 829.9 785.9C830.8 787.7 831.8 789.6 832.8 791.5C833.7 793.3 834.7 795.2 835.8 797.0C836.8 798.8 837.9 800.6 839.0 802.4C840.1 804.1 841.3 805.9 842.5 807.6C843.7 809.3 845.0 810.9 846.4 812.5C847.7 814.1 849.1 815.6 850.6 817.1C852.1 818.5 854.5 820.5 855.3 821.2"/>
<path class="q" d="M556.3 821.3H594.8M855.3 821.3H897.1"/>
<text class="i" x="714.4" y="560.2">q</text>
<text x="714.4" y="627.8"><tspan class="i">I</tspan><tspan font-size="12" dx="0.4" dy="3">p</tspan></text>
</g>
</svg>
</body></html>
